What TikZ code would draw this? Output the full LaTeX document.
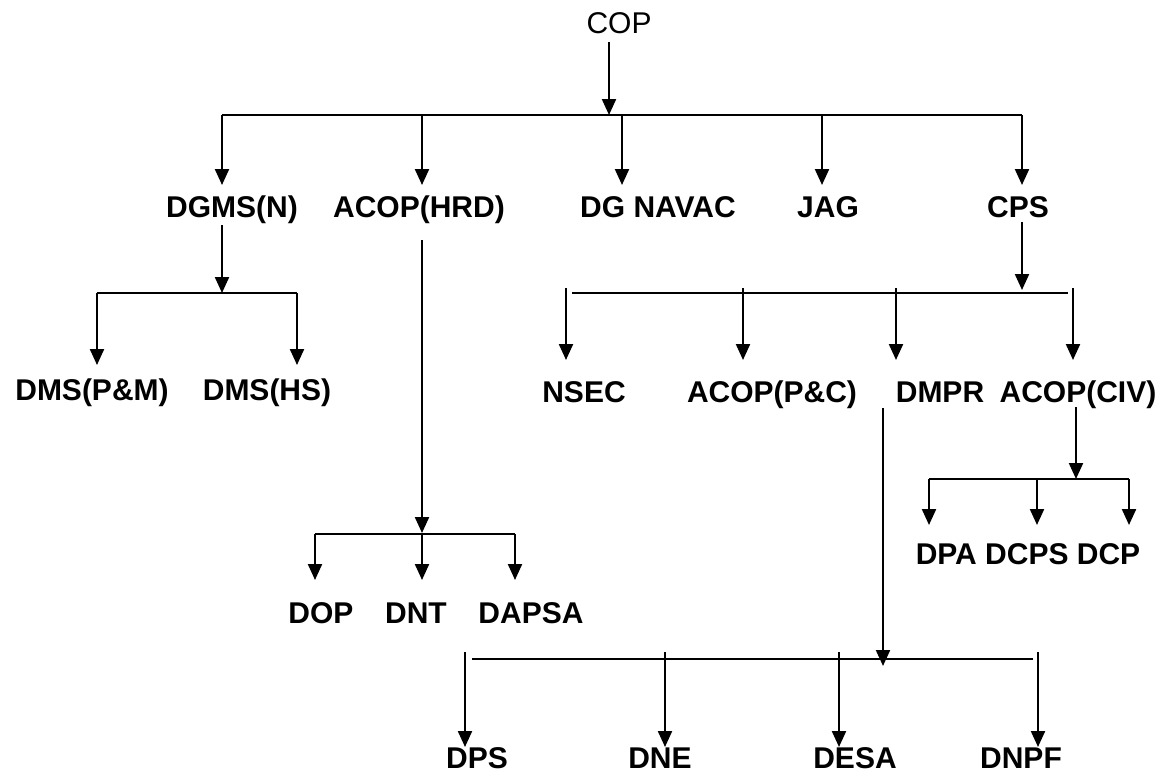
\documentclass[tikz,border=0pt]{standalone}
\usepackage{fontspec}
\setmainfont{Liberation Sans}
\usetikzlibrary{arrows.meta}
\begin{document}
\begin{tikzpicture}[x=1pt,y=-1pt,
  lab/.style={font=\fontsize{30}{34}\selectfont\bfseries, inner sep=0pt, anchor=base},
  toplab/.style={font=\fontsize{30}{34}\selectfont, inner sep=0pt, anchor=base},
  ln/.style={line width=2.2pt},
  arr/.style={line width=2.2pt, -{Triangle[width=14pt,length=16pt]}}]
\useasboundingbox (0,0) rectangle (1173,777);
% text nodes
\node[toplab] (cop) at (619,33) {COP};
\node[lab] (dgms) at (232,217) {DGMS(N)};
\node[lab] (hrd) at (419,217) {ACOP(HRD)};
\node[lab] (navac) at (658,217) {DG NAVAC};
\node[lab] (jag) at (828,217) {JAG};
\node[lab] (cps) at (1018,217) {CPS};
\node[lab] (pm) at (92,400) {DMS(P\&M)};
\node[lab] (hs) at (267,400) {DMS(HS)};
\node[lab] (nsec) at (584,402) {NSEC};
\node[lab] (pc) at (772,402) {ACOP(P\&C)};
\node[lab] (dmpr) at (940,402) {DMPR};
\node[lab] (civ) at (1078,402) {ACOP(CIV)};
\node[lab] (dpa) at (1028,564) {DPA DCPS DCP};
\node[lab] (dop) at (321,623) {DOP};
\node[lab] (dnt) at (416,623) {DNT};
\node[lab] (dapsa) at (531,623) {DAPSA};
\node[lab] (dps) at (477,768) {DPS};
\node[lab] (dne) at (660,768) {DNE};
\node[lab] (desa) at (855,768) {DESA};
\node[lab] (dnpf) at (1021,768) {DNPF};
% level 1
\coordinate (copOut) at (609,42);
\coordinate (b1in) at (609,115);
\draw[arr] (copOut) -- (b1in);
\draw[ln] (222,115) -- (1022,115);
\foreach \x in {222,422,622,822,1022} \draw[arr] (\x,115) -- (\x,185);
% DGMS(N)
\draw[arr] (222,225) -- (222,293);
\draw[ln] (97,293) -- (297,293);
\foreach \x in {97,297} \draw[arr] (\x,293) -- (\x,365);
% ACOP(HRD)
\draw[arr] (422,240) -- (422,533);
\draw[ln] (315,534) -- (515,534);
\foreach \x in {315,422,515} \draw[arr] (\x,534) -- (\x,580);
% CPS
\draw[arr] (1022,222) -- (1022,290);
\draw[ln] (572,293) -- (1068,293);
\foreach \x in {566,743,896,1073} \draw[arr] (\x,288) -- (\x,360);
% ACOP(CIV)
\draw[arr] (1076,407) -- (1076,479);
\draw[ln] (929,479) -- (1129,479);
\foreach \x in {929,1037,1129} \draw[arr] (\x,479) -- (\x,525);
% DMPR
\draw[arr] (883,408) -- (883,666);
\draw[ln] (472,659) -- (1033,659);
\foreach \x in {465,665,839,1038} \draw[arr] (\x,652) -- (\x,747);
\end{tikzpicture}
\end{document}
